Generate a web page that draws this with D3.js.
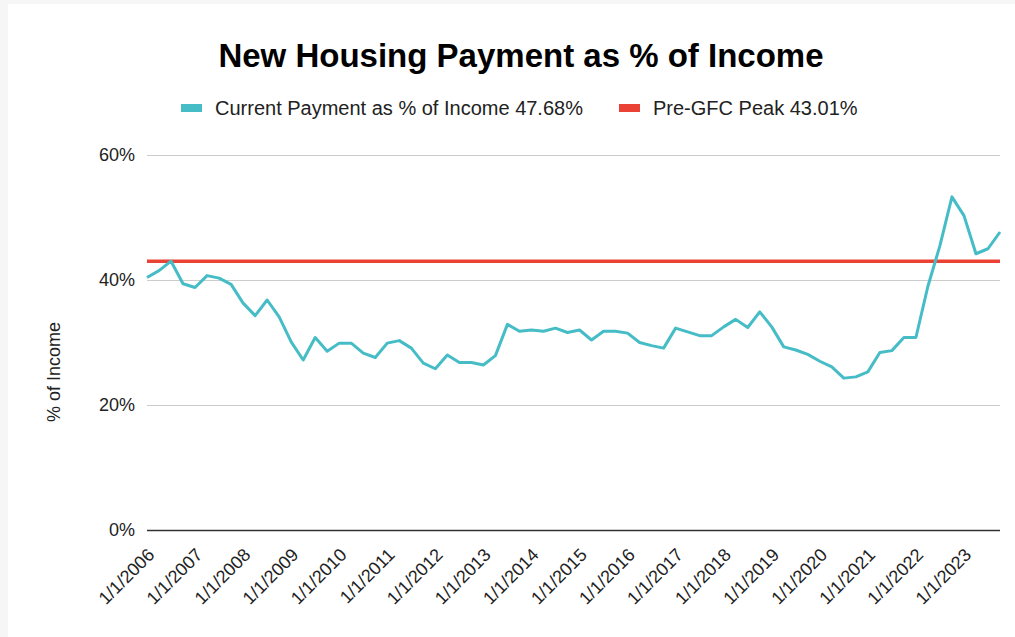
<!doctype html>
<html>
<head>
<meta charset="utf-8">
<title>New Housing Payment as % of Income</title>
<style>
body { margin: 0; background: #f6f6f7; }
svg { display: block; font-family: "Liberation Sans", Arial, sans-serif; }
</style>
<script src="https://cdn.jsdelivr.net/npm/d3@7"></script>
</head>
<body>
<script>
// quarterly values, Q1 2006 .. Q4 2023 (% of income)
var payment = [
  40.4, 41.5, 43.01, 39.4, 38.8, 40.7, 40.3, 39.3,
  36.3, 34.3, 36.8, 34.1, 30.1, 27.2, 30.8, 28.6,
  29.9, 29.9, 28.3, 27.6, 29.9, 30.3, 29.1, 26.7,
  25.8, 28.0, 26.8, 26.8, 26.4, 27.9, 32.9, 31.8,
  32.0, 31.8, 32.3, 31.6, 32.0, 30.4, 31.8, 31.8,
  31.5, 30.0, 29.5, 29.1, 32.3, 31.7, 31.1, 31.1,
  32.5, 33.7, 32.4, 34.9, 32.5, 29.3, 28.8, 28.1,
  27.0, 26.1, 24.3, 24.5, 25.3, 28.4, 28.7, 30.8,
  30.8, 39.0, 45.5, 53.3, 50.3, 44.2, 45.0, 47.68
];
var peak = 43.01;
var tickLabels = ["1/1/2006", "1/1/2007", "1/1/2008", "1/1/2009", "1/1/2010", "1/1/2011",
  "1/1/2012", "1/1/2013", "1/1/2014", "1/1/2015", "1/1/2016", "1/1/2017",
  "1/1/2018", "1/1/2019", "1/1/2020", "1/1/2021", "1/1/2022", "1/1/2023"];
var yTicks = [0, 20, 40, 60];
var seriesNames = ["Current Payment as % of Income 47.68%", "Pre-GFC Peak 43.01%"];
var colors = ["#46bdc6", "#ea4335"];

var w = 1015, h = 637;
var plotLeft = 147, plotRight = 1000, plotTop = 155, plotBottom = 530;

var svg = d3.select("body").append("svg")
  .attr("width", w)
  .attr("height", h);

svg.append("rect")
  .attr("x", 8).attr("y", 4)
  .attr("width", w - 8).attr("height", h - 4)
  .attr("fill", "#fff");

var x = d3.scaleLinear().domain([0, payment.length - 1]).range([plotLeft, plotRight]);
var y = d3.scaleLinear().domain([0, 60]).range([plotBottom, plotTop]);

// title
svg.append("text")
  .attr("x", 521).attr("y", 67)
  .attr("text-anchor", "middle")
  .style("font-size", "33px")
  .style("font-weight", "bold")
  .attr("fill", "#000")
  .text("New Housing Payment as % of Income");

// legend
var legendX = [181, 619];
seriesNames.forEach(function(name, i) {
  svg.append("rect")
    .attr("x", legendX[i]).attr("y", 104)
    .attr("width", 21).attr("height", 8)
    .attr("fill", colors[i]);
  svg.append("text")
    .attr("x", legendX[i] + 34).attr("y", 115)
    .style("font-size", "20px")
    .attr("fill", "#222")
    .text(name);
});

// grid + y labels
var yAxis = d3.axisLeft(y)
  .tickValues(yTicks)
  .tickSize(-(plotRight - plotLeft))
  .tickPadding(12)
  .tickFormat(function(d) { return d + "%"; });

var gy = svg.append("g")
  .attr("transform", "translate(" + plotLeft + ",0)")
  .call(yAxis);
gy.select(".domain").remove();
gy.selectAll(".tick line")
  .attr("stroke", function(d) { return d === 0 ? "#333" : "#ccc"; })
  .attr("stroke-width", function(d) { return d === 0 ? 1.5 : 1.2; });
gy.selectAll(".tick text")
  .style("font-size", "18px")
  .style("font-family", "'Liberation Sans', Arial, sans-serif")
  .attr("fill", "#222");

svg.append("text")
  .attr("transform", "translate(60,372)rotate(-90)")
  .attr("text-anchor", "middle")
  .style("font-size", "18px")
  .attr("fill", "#222")
  .text("% of Income");

// x labels
var xAxis = d3.axisBottom(x)
  .tickValues(d3.range(0, tickLabels.length * 4, 4))
  .tickSize(0)
  .tickFormat(function(d) { return tickLabels[d / 4]; });

var gx = svg.append("g")
  .attr("transform", "translate(0," + plotBottom + ")")
  .call(xAxis);
gx.select(".domain").remove();
gx.selectAll(".tick text")
  .style("font-size", "18px")
  .style("font-family", "'Liberation Sans', Arial, sans-serif")
  .attr("fill", "#222")
  .attr("text-anchor", "end")
  .attr("dy", null)
  .attr("y", 0)
  .attr("transform", "translate(8,26)rotate(-45)");

// pre-GFC peak
svg.append("line")
  .attr("x1", plotLeft).attr("x2", plotRight)
  .attr("y1", y(peak)).attr("y2", y(peak))
  .attr("stroke", colors[1])
  .attr("stroke-width", 3.5);

// payment line
var line = d3.line()
  .x(function(d, i) { return x(i); })
  .y(function(d) { return y(d); });

svg.append("path")
  .datum(payment)
  .attr("d", line)
  .attr("fill", "none")
  .attr("stroke", colors[0])
  .attr("stroke-width", 3)
  .attr("stroke-linejoin", "round");
</script>
</body>
</html>
